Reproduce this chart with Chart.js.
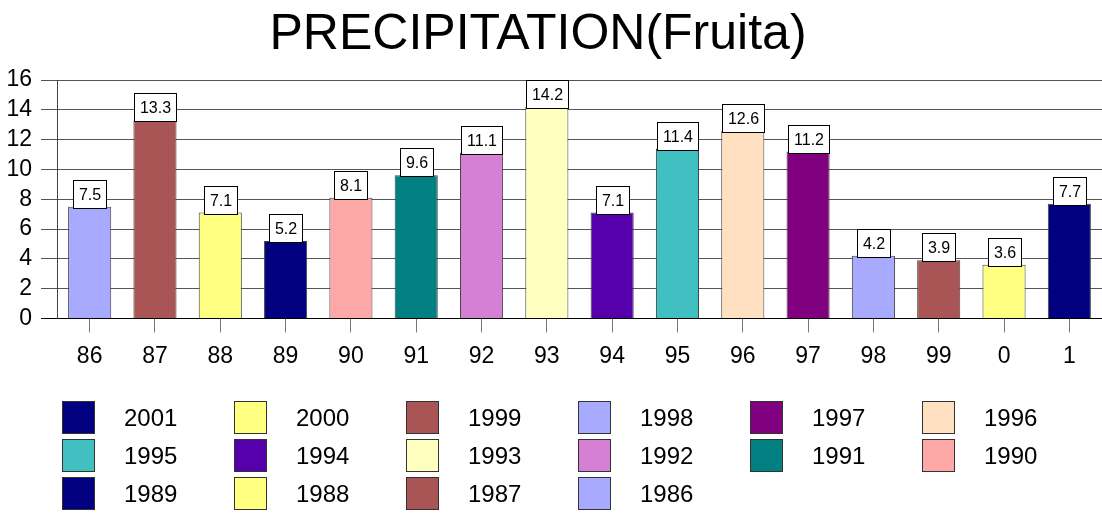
<!DOCTYPE html>
<html><head><meta charset="utf-8">
<script src="https://cdn.jsdelivr.net/npm/chart.js@4.4.0/dist/chart.umd.min.js"></script>
<style>
html,body{margin:0;padding:0;background:#fff;}
#wrap{position:relative;width:1102px;height:513px;overflow:hidden;background:#fff;}
#c{position:absolute;left:0;top:0;}
.lg{position:absolute;font-family:Arial,"Liberation Sans",sans-serif;font-size:24px;color:#000;}
.lg .bx{position:absolute;left:0;top:0;width:31px;height:31px;border:1px solid #333;}
.lg .tx{position:absolute;left:62px;top:0;line-height:33px;white-space:nowrap;}
</style></head><body>
<div id="wrap"><canvas id="c" width="1102" height="513" style="width:1102px;height:513px"></canvas><div id="legend"></div></div>
<script>
const FONT = 'Arial, "Liberation Sans", sans-serif';
const categories = ['86','87','88','89','90','91','92','93','94','95','96','97','98','99','0','1'];
const seriesNames = ['1986','1987','1988','1989','1990','1991','1992','1993','1994','1995','1996','1997','1998','1999','2000','2001'];
const values = [7.5,13.3,7.1,5.2,8.1,9.6,11.1,14.2,7.1,11.4,12.6,11.2,4.2,3.9,3.6,7.7];
const colors = ['#A8AAFF','#AA5555','#FFFF80','#000080','#FFA8A8','#008080','#D580D5','#FFFFC0',
                '#5500AA','#40C0C0','#FFE0C0','#800080','#A8AAFF','#AA5555','#FFFF80','#000080'];
const yTicks = [0,2,4,6,8,10,12,14,16];
const titleText = 'PRECIPITATION(Fruita)';

const datasets = seriesNames.map((name, i) => ({
  label: name,
  data: categories.map((_, j) => (j === i ? values[i] : null)),
  backgroundColor: colors[i],
  borderColor: '#444',
  borderWidth: 1,
  barPercentage: 0.66,
  categoryPercentage: 1
}));

const valueLabels = {
  id: 'valueLabels',
  afterDatasetsDraw(chart) {
    const ctx = chart.ctx;
    ctx.save();
    ctx.font = '16px ' + FONT;
    chart.data.datasets.forEach((ds, i) => {
      const meta = chart.getDatasetMeta(i);
      meta.data.forEach((el, j) => {
        const v = ds.data[j];
        if (v === null || v === undefined) return;
        const txt = v.toFixed(1);
        const w = Math.round(ctx.measureText(txt).width + 11);
        const h = 28;
        const x = Math.round(el.x - w / 2) + 0.5;
        const y = Math.round(el.y + 1 - h) + 0.5;
        ctx.fillStyle = '#fff';
        ctx.fillRect(x, y, w, h);
        ctx.strokeStyle = '#000';
        ctx.lineWidth = 1;
        ctx.strokeRect(x, y, w, h);
        ctx.fillStyle = '#000';
        ctx.textAlign = 'center';
        ctx.textBaseline = 'middle';
        ctx.fillText(txt, x + w / 2, y + h / 2 + 1);
      });
    });
    ctx.restore();
  }
};

const titleDraw = {
  id: 'titleDraw',
  afterDraw(chart) {
    const ctx = chart.ctx;
    ctx.save();
    ctx.font = '50px ' + FONT;
    ctx.fillStyle = '#000';
    ctx.textAlign = 'center';
    ctx.textBaseline = 'alphabetic';
    ctx.fillText(titleText, 538, 49);
    ctx.restore();
  }
};

new Chart(document.getElementById('c'), {
  type: 'bar',
  data: { labels: categories, datasets },
  plugins: [valueLabels, titleDraw],
  options: {
    responsive: false,
    animation: false,
    devicePixelRatio: 1,
    layout: { padding: { left: 0, right: 0, top: 80, bottom: 133 } },
    plugins: {
      legend: { display: false },
      tooltip: { enabled: false },
      title: { display: false }
    },
    scales: {
      x: {
        stacked: true,
        offset: true,
        grid: { offset: false, drawOnChartArea: false, drawTicks: true, tickLength: 14, color: '#777' },
        border: { color: '#000', width: 1 },
        ticks: { color: '#000', font: { size: 23, family: FONT }, padding: 10, maxRotation: 0, autoSkip: false }
      },
      y: {
        stacked: true,
        min: yTicks[0], max: yTicks[yTicks.length - 1],
        afterBuildTicks: s => { s.ticks = yTicks.map(v => ({ value: v })); },
        afterFit: s => { s.width = 57; },
        grid: { color: c => (c.tick && c.tick.value === 0 ? '#000' : '#555'), tickLength: 16 },
        border: { color: '#444', width: 1 },
        ticks: { color: '#000', font: { size: 23, family: FONT }, padding: 9, autoSkip: false }
      }
    }
  }
});

// Legend (reverse order like the reference)
const lg = document.getElementById('legend');
const order = seriesNames.map((_, i) => i).reverse();
order.forEach((idx, k) => {
  const col = k % 6, row = Math.floor(k / 6);
  const d = document.createElement('div');
  d.className = 'lg';
  d.style.left = (62 + 172 * col) + 'px';
  d.style.top = (401 + 38 * row) + 'px';
  d.innerHTML = '<div class="bx" style="background:' + colors[idx] + '"></div><div class="tx">' + seriesNames[idx] + '</div>';
  lg.appendChild(d);
});
</script>
</body></html>
